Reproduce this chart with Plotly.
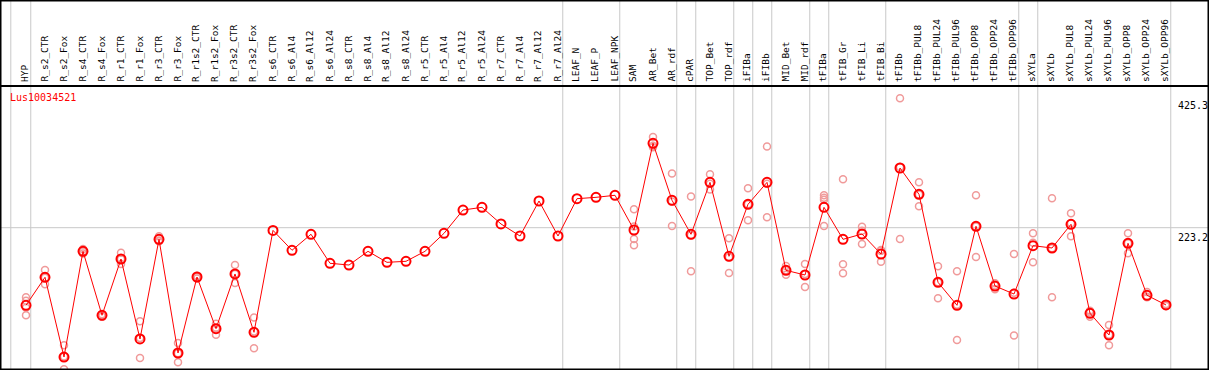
import plotly.graph_objects as go

categories = ["HYP", "R_s2_CTR", "R_s2_Fox", "R_s4_CTR", "R_s4_Fox", "R_r1_CTR", "R_r1_Fox",
              "R_r3_CTR", "R_r3_Fox", "R_r1s2_CTR", "R_r1s2_Fox", "R_r3s2_CTR", "R_r3s2_Fox",
              "R_s6_CTR", "R_s6_Al4", "R_s6_Al12", "R_s6_Al24", "R_s8_CTR", "R_s8_Al4", "R_s8_Al12",
              "R_s8_Al24", "R_r5_CTR", "R_r5_Al4", "R_r5_Al12", "R_r5_Al24", "R_r7_CTR", "R_r7_Al4",
              "R_r7_Al12", "R_r7_Al24", "LEAF_N", "LEAF_P", "LEAF_NPK", "SAM", "AR_Bet", "AR_rdf",
              "cPAR", "TOP_Bet", "TOP_rdf", "iFIBa", "iFIBb", "MID_Bet", "MID_rdf", "tFIBa",
              "tFIB_Gr", "tFIB_Li", "tFIB_Bi", "tFIBb", "tFIBb_PUL8", "tFIBb_PUL24", "tFIBb_PUL96",
              "tFIBb_OPP8", "tFIBb_OPP24", "tFIBb_OPP96", "sXYLa", "sXYLb", "sXYLb_PUL8",
              "sXYLb_PUL24", "sXYLb_PUL96", "sXYLb_OPP8", "sXYLb_OPP24", "sXYLb_OPP96"]

means = [102, 145.7, 21.2, 186.3, 86.4, 174.3, 49.4, 205, 27.5, 146.2, 65.5, 150.9, 59.8,
         219, 187.9, 212.9, 167.6, 164.9, 186.3, 169.1, 170.7, 186.3, 214.4, 250.8, 255, 229,
         210.2, 264.9, 210.2, 268.5, 270.6, 273.8, 219.6, 355, 266, 212.9, 294, 178.5, 259.7,
         294, 156.6, 149.3, 255, 205, 213.3, 182.1, 316.4, 275.3, 137.9, 102, 225.4, 132.1,
         119.6, 195.1, 191.5, 228.5, 89.5, 55.6, 198.8, 117.6, 102.5]

replicates = [
    [114.5, 109, 98, 86.4], [157, 145, 135], [39.5, 22, 2], [190, 186, 183], [88, 86, 84],
    [184, 174, 166.5], [77, 51, 19.7], [210, 203, 202], [43, 27, 13], [148, 146, 144],
    [73, 67, 56], [165, 151, 137], [83, 61, 35],
    [], [], [], [], [], [], [], [], [], [], [], [], [], [], [], [], [], [], [],
    [252, 225, 205.5, 195.7], [365, 351, 349], [308, 264, 226], [272, 211.5, 155],
    [306.6, 292, 283], [206.6, 177, 152.4], [284.7, 259.7, 234.7], [350, 292, 239.4],
    [163.4, 156.6, 149.8], [166.5, 150.8, 130.6], [274, 270, 267, 226], [299, 166, 152],
    [224.7, 218.5, 197.7], [188.3, 187, 170.1], [425.3, 318, 205.5], [294, 275, 256.6],
    [163, 138, 113], [155, 103, 47.8], [273.8, 225, 177.4], [136.3, 133, 127],
    [182, 121.6, 55], [214.4, 199.8, 169.1], [269, 191, 114.5], [245.7, 230, 209.7],
    [93.6, 90.7, 84.2], [71.2, 56, 39.5], [214.4, 199, 183.2], [122.8, 115.5, 114.5],
    [104, 102.5, 101],
]

group_end_labels = ["HYP", "R_r7_Al24", "LEAF_NPK", "AR_rdf", "cPAR", "TOP_rdf", "iFIBa",
                    "iFIBb", "MID_rdf", "tFIBa", "tFIB_Bi", "tFIBb_OPP96", "sXYLa", "sXYLb_OPP96"]

y_tick_values = [0, 223.2, 425.3]
y_tick_labels = ["0", "223.2", "425.3"]
gene_name = "Lus10034521"

FONT = "DejaVu Sans Mono"
idx = list(range(len(categories)))

rep_x, rep_y = [], []
for i, reps in enumerate(replicates):
    for v in reps:
        rep_x.append(i)
        rep_y.append(v)

fig = go.Figure()
fig.add_trace(go.Scatter(x=rep_x, y=rep_y, mode="markers",
                         marker=dict(symbol="circle-open", size=7, color="#f09a9a",
                                     line=dict(width=1.5, color="#f09a9a")),
                         hoverinfo="skip", showlegend=False))
fig.add_trace(go.Scatter(x=idx, y=means, mode="lines+markers",
                         line=dict(color="#ff0000", width=1),
                         marker=dict(symbol="circle-open", size=9, color="#ff0000",
                                     line=dict(width=2, color="#ff0000")),
                         showlegend=False))

W, H = 1209, 370
label_base = 1 - 84 / H
GRID = "#c8c8c8"
shapes = []
shapes.append(dict(type="line", xref="x", yref="paper", x0=-0.8, x1=-0.8, y0=0, y1=1,
                   line=dict(color=GRID, width=1), layer="below"))
for name in group_end_labels:
    xv = categories.index(name) + 0.25
    shapes.append(dict(type="line", xref="x", yref="paper", x0=xv, x1=xv, y0=0, y1=1,
                       line=dict(color=GRID, width=1), layer="below"))
shapes.append(dict(type="line", xref="paper", yref="y", x0=0, x1=1, y0=y_tick_values[1],
                   y1=y_tick_values[1], line=dict(color=GRID, width=1), layer="below"))
shapes.append(dict(type="rect", xref="paper", yref="paper", x0=0, x1=1, y0=0, y1=1,
                   line=dict(color="black", width=3)))
shapes.append(dict(type="line", xref="paper", yref="paper", x0=0, x1=1,
                   y0=1 - 86 / H, y1=1 - 86 / H, line=dict(color="black", width=2)))

annotations = []
for i, c in enumerate(categories):
    annotations.append(dict(x=i, y=label_base, xref="x", yref="paper", text=c,
                            textangle=-90, xanchor="center", yanchor="bottom",
                            showarrow=False, xshift=-1.5,
                            font=dict(family=FONT, size=9.5, color="black")))
for v, t in zip(y_tick_values, y_tick_labels):
    annotations.append(dict(x=1176 / W, y=v, xref="paper", yref="y", text=t,
                            xanchor="left", yanchor="bottom" if v == 0 else "top",
                            yshift=2 if v == 0 else (-2 if v == y_tick_values[1] else 0),
                            showarrow=False,
                            font=dict(family=FONT, size=10, color="black")))
annotations.append(dict(x=8 / W, y=1 - 97 / H, xref="paper", yref="paper", text=gene_name,
                        xanchor="left", yanchor="middle", showarrow=False,
                        font=dict(family=FONT, size=10, color="#ff0000")))

y_top_val = 578.8
y_bot_val = 0.94
fig.update_layout(
    width=W, height=H, margin=dict(l=0, r=0, t=0, b=0),
    paper_bgcolor="white", plot_bgcolor="white",
    xaxis=dict(range=[-26 / 19, (W - 26) / 19], visible=False, fixedrange=True),
    yaxis=dict(range=[y_bot_val, y_top_val], visible=False, fixedrange=True),
    shapes=shapes, annotations=annotations, showlegend=False,
)
fig.write_html("out.html", config={"displayModeBar": False},
               post_script="document.body.style.margin='0';document.body.style.overflow='hidden';")
